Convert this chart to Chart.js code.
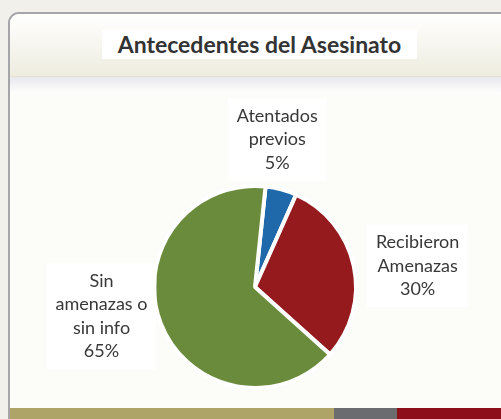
<!DOCTYPE html>
<html>
<head>
<meta charset="utf-8">
<script src="https://cdn.jsdelivr.net/npm/chart.js@4"></script>
<style>
  html, body { margin:0; padding:0; width:501px; height:419px; overflow:hidden; background:#f1f0eb; }
  #card { position:absolute; left:8px; top:12px; width:520px; height:420px; box-sizing:border-box;
          border:2px solid #a4a4a9; border-radius:11px; overflow:hidden; background:#fcfcf8; }
  #head { position:absolute; left:0; top:0; width:100%; height:62px;
          background:linear-gradient(#ffffff, #eeecdf); border-bottom:1px solid #e6e2cf; }
  #band { position:absolute; left:0; top:63px; width:100%; height:17px;
          background:linear-gradient(#e8e8ee, #ffffff); }
  #bar { position:absolute; left:0; top:394px; width:100%; height:14px; display:flex; }
  #bar div { height:100%; }
  #title { position:absolute; left:102px; top:30px; width:315px; height:29px; background:#fff;
           font:bold 23px Lato, "Open Sans", sans-serif; color:#333; text-align:center; line-height:29px; }
  #c { position:absolute; left:0; top:0; }
</style>
</head>
<body>
<div id="card">
  <div id="head"></div>
  <div id="band"></div>
  <div id="bar">
    <div style="width:324px;background:#aea467"></div>
    <div style="width:63px;background:#6b6c70"></div>
    <div style="flex:1;background:#8d0f19"></div>
  </div>
</div>
<div id="title">Antecedentes del Asesinato</div>
<canvas id="c" width="501" height="419"></canvas>
<script>
const chartTitle = "Antecedentes del Asesinato";
const categories = [["Atentados", "previos"], ["Recibieron", "Amenazas"], ["Sin", "amenazas o", "sin info"]];
const percentValues = [5, 30, 65];
const sliceColors = ["#1f69ab", "#941a1d", "#6a8b3b"];

// label centre offsets, in units of the pie radius, from the pie centre
const labelOffsets = [[0.22, -1.46], [1.61, -0.21], [-1.52, 0.29]];

const labelPlugin = {
  id: 'sliceLabels',
  afterDatasetsDraw(chart) {
    const ctx = chart.ctx;
    const meta = chart.getDatasetMeta(0);
    const lh = 23.5;
    ctx.save();
    ctx.font = '18px Lato, "Open Sans", sans-serif';
    ctx.textAlign = 'center';
    ctx.textBaseline = 'middle';
    meta.data.forEach((arc, i) => {
      const r = arc.outerRadius;
      const cx = arc.x + labelOffsets[i][0] * r;
      const cy = arc.y + labelOffsets[i][1] * r;
      const lines = categories[i].concat([percentValues[i] + '%']);
      let w = 0;
      lines.forEach(t => { w = Math.max(w, ctx.measureText(t).width); });
      const h = lines.length * lh;
      ctx.fillStyle = 'rgba(255,255,255,0.95)';
      ctx.fillRect(cx - w / 2 - 9, cy - h / 2 - 6, w + 18, h + 12);
      ctx.fillStyle = '#383838';
      lines.forEach((t, k) => {
        ctx.fillText(t, cx, cy - h / 2 + lh / 2 + k * lh);
      });
    });
    ctx.restore();
  }
};

new Chart(document.getElementById('c'), {
  type: 'pie',
  data: {
    labels: categories.map(c => c.join(' ')),
    datasets: [{
      data: percentValues,
      backgroundColor: sliceColors,
      borderColor: '#ffffff',
      borderWidth: 4
    }]
  },
  options: {
    responsive: false,
    animation: false,
    devicePixelRatio: 1,
    rotation: 6,
    layout: { padding: { left: 152, right: 143, top: 184, bottom: 29 } },
    plugins: { legend: { display: false }, tooltip: { enabled: false }, title: { display: false } }
  },
  plugins: [labelPlugin]
});
</script>
</body>
</html>
